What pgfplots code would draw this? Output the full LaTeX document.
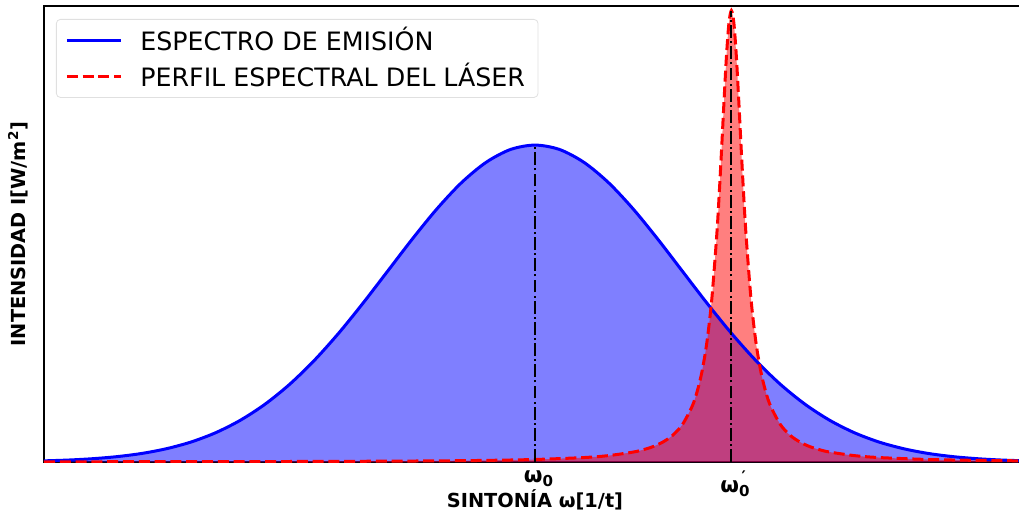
\documentclass[border=0pt]{standalone}
\usepackage{fontspec}
\setmainfont{DejaVu Sans}
\usepackage{pgfplots}
\pgfplotsset{compat=1.18}

% emission spectrum (gaussian) around omega_0
\pgfplotstableread{
x y
0.00 0.0025
0.25 0.0043
0.50 0.0073
0.75 0.0119
1.00 0.0189
1.25 0.0293
1.50 0.0440
1.75 0.0644
2.00 0.0916
2.25 0.1266
2.50 0.1701
2.75 0.2222
3.00 0.2823
3.25 0.3487
3.50 0.4187
3.75 0.4888
4.00 0.5548
4.25 0.6123
4.50 0.6569
4.75 0.6853
5.00 0.6950
5.25 0.6853
5.50 0.6569
5.75 0.6123
6.00 0.5548
6.25 0.4888
6.50 0.4187
6.75 0.3487
7.00 0.2823
7.25 0.2222
7.50 0.1701
7.75 0.1266
8.00 0.0916
8.25 0.0644
8.50 0.0440
8.75 0.0293
9.00 0.0189
9.25 0.0119
9.50 0.0073
9.75 0.0043
10.00 0.0025
}\emision

% laser line (lorentzian) around omega_0'
\pgfplotstableread{
x y
0.00 0.00045
1.00 0.00062
2.00 0.00089
3.00 0.00139
4.00 0.00247
4.50 0.00356
5.00 0.00554
5.50 0.0098
5.75 0.01405
6.00 0.0218
6.10 0.0268
6.20 0.0336
6.30 0.0435
6.40 0.0582
6.50 0.0817
6.60 0.1221
6.65 0.1536
6.70 0.1980
6.75 0.2621
6.80 0.3564
6.85 0.4950
6.875 0.5843
6.90 0.6854
6.925 0.7920
6.95 0.8910
6.975 0.9632
7.00 0.9900
7.025 0.9632
7.05 0.8910
7.075 0.7920
7.10 0.6854
7.125 0.5843
7.15 0.4950
7.20 0.3564
7.25 0.2621
7.30 0.1980
7.35 0.1536
7.40 0.1221
7.50 0.0817
7.60 0.0582
7.70 0.0435
7.80 0.0336
7.90 0.0268
8.00 0.0218
8.25 0.01405
8.50 0.0098
9.00 0.00554
9.50 0.00356
10.00 0.00247
}\laser

\begin{document}
\begin{tikzpicture}
\begin{axis}[
  scale only axis,
  width=491bp, height=228bp,
  xmin=0, xmax=10, ymin=0, ymax=1,
  axis line style={line width=0.6bp, black},
  xtick={5,7},
  xticklabels={{\bfseries ω\textsubscript{0}},
               {\bfseries ω\makebox[0pt][l]{\raisebox{0.85ex}{\footnotesize\,′}}\textsubscript{0}}},
  xticklabel style={font=\fontsize{10.8}{12}\selectfont, xshift=2bp, yshift=-1bp},
  ytick=\empty,
  major tick length=0pt,
  xlabel={\bfseries SINTONÍA ω[1/t]},
  ylabel={\bfseries INTENSIDAD I[W/m\textsuperscript{2}]},
  label style={font=\fontsize{9.7}{11}\selectfont},
  xlabel style={at={(axis description cs:0.5,-0.0833)}, anchor=center},
  ylabel style={at={(axis description cs:-0.0265,0.5)}, anchor=center},
  legend style={at={(0.0122,0.9715)}, anchor=north west,
    draw=black!12, rounded corners=2bp, fill=white, fill opacity=0.8,
    text opacity=1, draw opacity=1,
    font=\fontsize{12.7}{15}\selectfont,
    inner xsep=4.5bp, inner ysep=1.8bp, row sep=1bp,
    /tikz/every odd column/.append style={column sep=7bp}},
  legend cell align=left,
  legend image code/.code={\draw[#1] (0bp,0bp) -- (27bp,0bp);},
]
% filled areas under both profiles
\addplot[draw=none, fill=blue, fill opacity=0.5, smooth, forget plot]
  table {\emision} \closedcycle;
\addplot[draw=none, fill=red, fill opacity=0.5, smooth, forget plot]
  table {\laser} \closedcycle;
% profile outlines
\addplot[blue, line width=1.5bp, smooth] table {\emision};
\addlegendentry{ESPECTRO DE EMISIÓN}
\addplot[red, line width=1.5bp, smooth, dash pattern=on 5.5bp off 2.4bp] table {\laser};
\addlegendentry{PERFIL ESPECTRAL DEL LÁSER}
% centre frequencies
\addplot[black, line width=1bp, dash pattern=on 6.4bp off 1.6bp on 1bp off 1.6bp, forget plot]
  coordinates {(5,0) (5,0.695)};
\addplot[black, line width=1bp, dash pattern=on 6.4bp off 1.6bp on 1bp off 1.6bp, forget plot]
  coordinates {(7,0) (7,0.99)};
\end{axis}
\pgfresetboundingbox
\path[use as bounding box] ([shift={(-22bp,-25.5bp)}]current axis.south west)
  rectangle ([shift={(-3.5bp,3bp)}]current axis.north east);
\end{tikzpicture}
\end{document}
